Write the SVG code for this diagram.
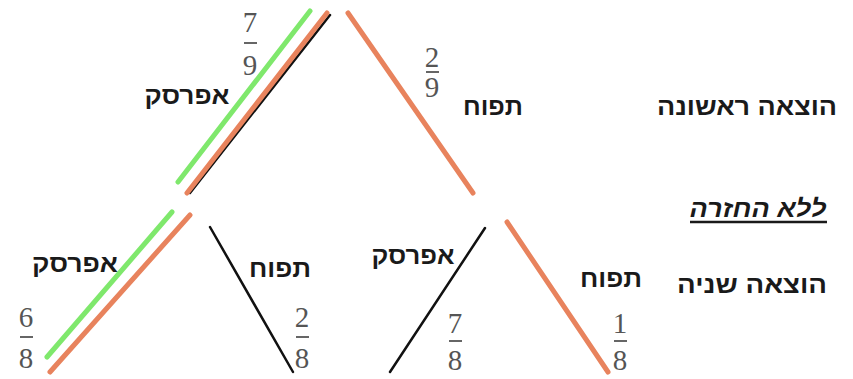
<svg xmlns="http://www.w3.org/2000/svg" width="853" height="379" viewBox="0 0 853 379">
<style>
.heb{font-family:"Liberation Sans","DejaVu Sans",sans-serif;font-weight:bold;font-size:24px;fill:#1a1a1a;text-anchor:middle}
.num{font-family:"Liberation Serif","DejaVu Serif",serif;font-size:29px;fill:#555;text-anchor:middle}
.bar{stroke:#666;stroke-width:2}
.or{stroke:#e8835d;stroke-width:5;stroke-linecap:round}
.gr{stroke:#7fe86c;stroke-width:5;stroke-linecap:round}
.bk{stroke:#111;stroke-width:2.5;stroke-linecap:round}
</style>
<rect width="853" height="379" fill="#fff"/>
<g id="connectors">
  <line class="gr" x1="310" y1="11" x2="178" y2="182"/>
  <line class="bk" x1="330" y1="15" x2="190" y2="193"/>
  <line class="or" x1="327" y1="13" x2="187" y2="193"/>
  <line class="or" x1="348" y1="13" x2="473" y2="193"/>
  <line class="gr" x1="172" y1="212" x2="47" y2="357"/>
  <line class="or" x1="190" y1="215" x2="50" y2="372"/>
  <line class="bk" x1="210" y1="227" x2="293" y2="372"/>
  <line class="bk" x1="485" y1="228" x2="390" y2="372"/>
  <line class="or" x1="507" y1="222" x2="608" y2="372"/>
</g>
<g id="first-peach">
  <text class="heb" x="187" y="104" textLength="85" lengthAdjust="spacingAndGlyphs">אפרסק</text>
  <text class="num" x="250" y="32">7</text>
  <line class="bar" x1="244" y1="43" x2="257" y2="43"/>
  <text class="num" x="250" y="75">9</text>
</g>
<g id="first-apple">
  <text class="heb" x="493" y="115" textLength="60" lengthAdjust="spacingAndGlyphs">תפוח</text>
  <text class="num" x="432" y="67">2</text>
  <line class="bar" x1="426" y1="72" x2="439" y2="72"/>
  <text class="num" x="432" y="97">9</text>
</g>
<g id="second-peach-peach">
  <text class="heb" x="75" y="272" textLength="86" lengthAdjust="spacingAndGlyphs">אפרסק</text>
  <text class="num" x="26" y="327">6</text>
  <line class="bar" x1="20" y1="337" x2="33" y2="337"/>
  <text class="num" x="26" y="368">8</text>
</g>
<g id="second-peach-apple">
  <text class="heb" x="280" y="277" textLength="62" lengthAdjust="spacingAndGlyphs">תפוח</text>
  <text class="num" x="302" y="327">2</text>
  <line class="bar" x1="296" y1="337" x2="309" y2="337"/>
  <text class="num" x="302" y="368">8</text>
</g>
<g id="second-apple-peach">
  <text class="heb" x="413" y="264" textLength="83" lengthAdjust="spacingAndGlyphs">אפרסק</text>
  <text class="num" x="455" y="333">7</text>
  <line class="bar" x1="449" y1="341" x2="462" y2="341"/>
  <text class="num" x="455" y="370">8</text>
</g>
<g id="second-apple-apple">
  <text class="heb" x="611" y="287" textLength="62" lengthAdjust="spacingAndGlyphs">תפוח</text>
  <text class="num" x="620" y="333">1</text>
  <line class="bar" x1="614" y1="341" x2="627" y2="341"/>
  <text class="num" x="620" y="370">8</text>
</g>
<g id="legend">
  <text class="heb" x="747" y="115" textLength="180" lengthAdjust="spacingAndGlyphs">הוצאה ראשונה</text>
  <text class="heb" x="758" y="217" font-style="italic" textLength="137" lengthAdjust="spacingAndGlyphs">ללא החזרה</text>
  <line x1="690" y1="222" x2="827" y2="222" stroke="#1a1a1a" stroke-width="2.5"/>
  <text class="heb" x="752" y="293" textLength="150" lengthAdjust="spacingAndGlyphs">הוצאה שניה</text>
</g>
</svg>
